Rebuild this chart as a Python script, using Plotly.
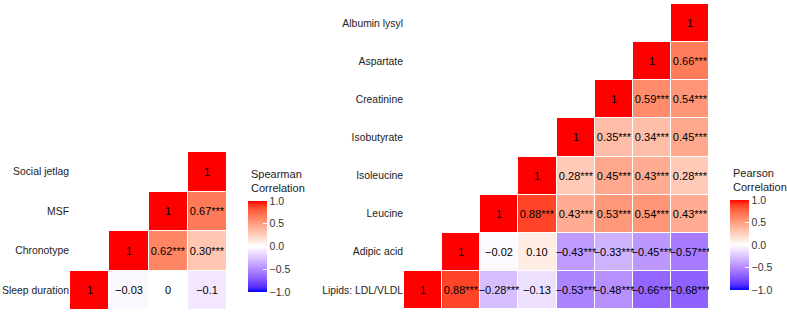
import plotly.graph_objects as go

# ---------------- data ----------------
sp_vars = ["Sleep duration", "Chronotype", "MSF", "Social jetlag"]  # bottom -> top
sp_values = [
    [1, -0.03, 0, -0.1],
    [None, 1, 0.62, 0.30],
    [None, None, 1, 0.67],
    [None, None, None, 1],
]
sp_labels = [
    ["1", "\u22120.03", "0", "\u22120.1"],
    ["", "1", "0.62***", "0.30***"],
    ["", "", "1", "0.67***"],
    ["", "", "", "1"],
]

pe_vars = ["Lipids: LDL/VLDL", "Adipic acid", "Leucine", "Isoleucine",
           "Isobutyrate", "Creatinine", "Aspartate", "Albumin lysyl"]  # bottom -> top
pe_values = [
    [1, 0.88, -0.28, -0.13, -0.53, -0.48, -0.66, -0.68],
    [None, 1, -0.02, 0.10, -0.43, -0.33, -0.45, -0.57],
    [None, None, 1, 0.88, 0.43, 0.53, 0.54, 0.43],
    [None, None, None, 1, 0.28, 0.45, 0.43, 0.28],
    [None, None, None, None, 1, 0.35, 0.34, 0.45],
    [None, None, None, None, None, 1, 0.59, 0.54],
    [None, None, None, None, None, None, 1, 0.66],
    [None, None, None, None, None, None, None, 1],
]
pe_labels = [
    ["1", "0.88***", "\u22120.28***", "\u22120.13", "\u22120.53***", "\u22120.48***", "\u22120.66***", "\u22120.68***"],
    ["", "1", "\u22120.02", "0.10", "\u22120.43***", "\u22120.33***", "\u22120.45***", "\u22120.57***"],
    ["", "", "1", "0.88***", "0.43***", "0.53***", "0.54***", "0.43***"],
    ["", "", "", "1", "0.28***", "0.45***", "0.43***", "0.28***"],
    ["", "", "", "", "1", "0.35***", "0.34***", "0.45***"],
    ["", "", "", "", "", "1", "0.59***", "0.54***"],
    ["", "", "", "", "", "", "1", "0.66***"],
    ["", "", "", "", "", "", "", "1"],
]

cb_ticks = [-1, -0.5, 0, 0.5, 1]
cb_ticktext = ["\u22121.0", "\u22120.5", "0.0", "0.5", "1.0"]

# ---------------- colour scale (Lab interpolation, like ggplot gradient2) ----------------
M = [[0.4124564, 0.3575761, 0.1804375], [0.2126729, 0.7151522, 0.0721750], [0.0193339, 0.1191920, 0.9503041]]
MI = [[3.2404542, -1.5371385, -0.4985314], [-0.9692660, 1.8760108, 0.0415560], [0.0556434, -0.2040259, 1.0572252]]
WN = (0.95047, 1.0, 1.08883)
D = 6 / 29


def to_lab(rgb):
    lin = []
    for c in rgb:
        c = c / 255
        lin.append(c / 12.92 if c <= 0.04045 else ((c + 0.055) / 1.055) ** 2.4)
    xyz = [sum(M[i][k] * lin[k] for k in range(3)) / WN[i] for i in range(3)]
    f = [t ** (1 / 3) if t > D ** 3 else t / (3 * D * D) + 4 / 29 for t in xyz]
    return (116 * f[1] - 16, 500 * (f[0] - f[1]), 200 * (f[1] - f[2]))


def from_lab(lab):
    L, a, b = lab
    fy = (L + 16) / 116
    fs = [fy + a / 500, fy, fy - b / 200]
    xyz = [(t ** 3 if t > D else 3 * D * D * (t - 4 / 29)) * WN[i] for i, t in enumerate(fs)]
    out = []
    for i in range(3):
        c = sum(MI[i][k] * xyz[k] for k in range(3))
        c = 12.92 * c if c <= 0.0031308 else 1.055 * max(c, 0) ** (1 / 2.4) - 0.055
        out.append(int(round(min(max(c, 0), 1) * 255)))
    return "rgb(%d,%d,%d)" % tuple(out)


low, mid, high = to_lab((0, 0, 255)), to_lab((255, 255, 255)), to_lab((255, 0, 0))
colorscale = []
N = 20
for i in range(N + 1):
    p = i / N
    if p <= 0.5:
        t = p / 0.5
        lab = [low[k] + (mid[k] - low[k]) * t for k in range(3)]
    else:
        t = (p - 0.5) / 0.5
        lab = [mid[k] + (high[k] - mid[k]) * t for k in range(3)]
    colorscale.append([p, from_lab(lab)])

W, H = 787, 313
FONT = "Liberation Sans, Arial, Helvetica, sans-serif"


def cbar(x_px, top_px, bot_px):
    return dict(
        x=x_px / W, xanchor="left", xpad=0,
        y=1 - (top_px + bot_px) / 2 / H, yanchor="middle", ypad=0,
        len=bot_px - top_px, lenmode="pixels",
        thickness=19, thicknessmode="pixels",
        outlinewidth=0,
        tickvals=cb_ticks, ticktext=cb_ticktext,
        ticks="inside", ticklen=4, tickcolor="white", tickwidth=1,
        tickfont=dict(size=10.5, color="#333333", family=FONT),
    )


fig = go.Figure()
fig.add_trace(go.Heatmap(
    z=sp_values, x=sp_vars, y=sp_vars, text=sp_labels, texttemplate="%{text}",
    textfont=dict(size=11, color="black", family=FONT),
    colorscale=colorscale, zmin=-1, zmax=1, xgap=1, ygap=1,
    hoverinfo="skip", xaxis="x", yaxis="y",
    colorbar=cbar(248, 201, 292),
))
fig.add_trace(go.Heatmap(
    z=pe_values, x=pe_vars, y=pe_vars, text=pe_labels, texttemplate="%{text}",
    textfont=dict(size=11, color="black", family=FONT),
    colorscale=colorscale, zmin=-1, zmax=1, xgap=1, ygap=1,
    hoverinfo="skip", xaxis="x2", yaxis="y2",
    colorbar=cbar(730, 200, 290),
))

axis_common = dict(showgrid=False, zeroline=False, showline=False, ticks="",
                   fixedrange=True, automargin=False)
fig.update_layout(
    width=W, height=H, margin=dict(l=0, r=0, t=0, b=0, autoexpand=False),
    paper_bgcolor="white", plot_bgcolor="white",
    font=dict(family=FONT, color="#222222"),
    xaxis=dict(domain=[70 / W, 227 / W], anchor="y", showticklabels=False,
               range=[-0.5, 3.5], **axis_common),
    yaxis=dict(domain=[1 - 310 / H, 1 - 152 / H], anchor="x", range=[-0.5, 3.5],
               tickfont=dict(size=10.4, color="#222222"), **axis_common),
    xaxis2=dict(domain=[404 / W, 709 / W], anchor="y2", showticklabels=False,
                range=[-0.5, 7.5], **axis_common),
    yaxis2=dict(domain=[1 - 309 / H, 1 - 4 / H], anchor="x2", range=[-0.5, 7.5],
                tickfont=dict(size=10.4, color="#222222"), **axis_common),
    annotations=[
        dict(text="Spearman<br>Correlation", x=249 / W, y=1 - 181 / H, xref="paper", yref="paper",
             xanchor="left", yanchor="middle", align="left", showarrow=False,
             font=dict(size=11, color="#222222", family=FONT)),
        dict(text="Pearson<br>Correlation", x=731 / W, y=1 - 179.5 / H, xref="paper", yref="paper",
             xanchor="left", yanchor="middle", align="left", showarrow=False,
             font=dict(size=11, color="#222222", family=FONT)),
    ],
)

fig.write_html("out.html", config={"displayModeBar": False},
               post_script="document.body.style.margin='0';document.body.style.padding='0';")
